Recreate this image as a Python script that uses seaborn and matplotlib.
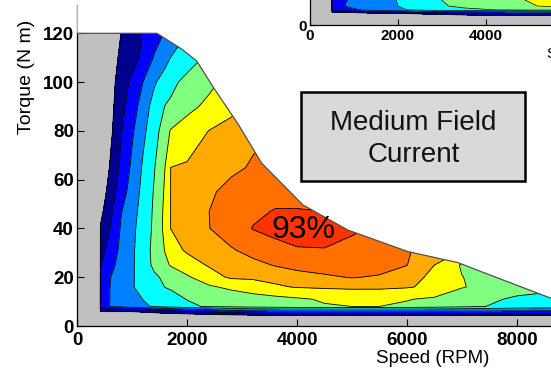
import numpy as np
import matplotlib
matplotlib.use("Agg")
import matplotlib.pyplot as plt
from matplotlib.patches import Rectangle
import seaborn as sns

sns.set_theme(style="white")
plt.rcParams['font.family'] = ['Liberation Sans', 'DejaVu Sans']

# ---------------- efficiency map, medium field current ----------------
speed_rpm = [400, 420, 600, 800, 1000, 1200, 1400, 1600, 1700, 2000, 2400, 2800,
             3200, 3600, 4000, 4500, 5000, 5500, 6000, 6500, 7000, 7500, 8000, 8800]
torque_nm = [3, 5, 6.5, 8, 11, 16, 20, 25, 31, 40, 47, 55, 65, 80, 90, 100, 110, 120]

# efficiency (%) : one row per torque value, one column per speed value
eff_t003 = [0, 60, 60, 60, 60, 60, 60, 60, 60, 60, 60, 60, 60, 60, 60, 60, 60, 60, 60, 60, 60, 60, 60, 60]
eff_t005 = [0, 66, 66, 66, 66, 67, 68, 69, 69.3, 70, 71.5, 72.5, 73.5, 74.3, 74.3, 74.3, 74.3, 74.3, 74.3, 74.5, 75.5, 75.5, 75.5, 75.5]
eff_t006 = [0, 72.7, 72.7, 72.7, 72.7, 73.5, 74.5, 75.5, 76, 77.5, 79, 80.5, 81.5, 82, 82, 82, 82, 82, 82, 82, 81.8, 81.5, 81.2, 81]
eff_t008 = [0, 76, 80.3, 81, 82, 83.5, 84.3, 85, 85.4, 86.5, 87.3, 87.7, 88.0, 88.3, 88.6, 88.85, 89.0, 89.0, 88.7, 88.2, 87.6, 86.9, 86.2, 85.5]
eff_t011 = [0, 76.5, 80.15, 81.5, 82.8, 84.08, 84.9, 85.7, 86.14, 87.08, 87.4, 87.7, 88.1, 88.4, 88.75, 89.2, 89.45, 89.4, 89.1, 88.7, 88.0, 87.4, 86.6, 86.0]
eff_t016 = [0, 76, 80.1, 82.0, 83.8, 84.97, 86.07, 87.06, 87.27, 87.9, 88.7, 89.44, 90.1, 90.78, 91.1, 91.25, 91.35, 91.35, 91.15, 90.6, 89.1, 88.5, 88.1, 87.5]
eff_t020 = [0, 75.3, 79.9, 81.8, 83.7, 85.2, 86.6, 87.44, 87.76, 88.7, 90.3, 91.25, 91.28, 91.45, 91.63, 91.85, 92.05, 91.9, 91.5, 90.7, 89.05, 88.3, 88.0, 87.5]
eff_t025 = [0, 74.55, 78.8, 81.5, 83.6, 85.8, 87.5, 88.6, 89.14, 90.26, 91.15, 91.45, 91.75, 92.05, 92.3, 92.45, 92.5, 92.4, 92.02, 91.0, 88.8, 88.0, 87.5, 87.0]
eff_t031 = [0, 72.9, 77.4, 81.1, 83.5, 85.8, 87.7, 89.1, 90.37, 91.2, 91.55, 91.9, 92.3, 92.65, 92.9, 92.95, 92.8, 92.5, 92.1, 91.5, 91.0, 90.5, 90.0, 89.5]
eff_t040 = [0, 70.3, 75.0, 80.6, 83.3, 85.5, 87.5, 89.5, 91.01, 91.43, 91.98, 92.5, 93.04, 93.3, 93.5, 93.4, 93.1, 92.9, 92.5, 92.0, 91.5, 91.0, 90.5, 90.0]
eff_t047 = [0, 68.6, 73.7, 79.8, 82.8, 85.3, 87.4, 89.46, 91.02, 91.44, 92.0, 92.41, 92.82, 93.05, 93.05, 93.0, 92.8, 92.5, 92.2, 91.8, 91.3, 90.8, 90.3, 89.8]
eff_t055 = [0, 66.85, 72.1, 77.9, 82.1, 85.0, 87.2, 89.29, 91.01, 91.4, 91.85, 92.3, 92.55, 92.7, 92.7, 92.6, 92.4, 92.2, 92.0, 91.7, 91.3, 90.8, 90.3, 89.8]
eff_t065 = [0, 64.8, 70.5, 76.2, 81.0, 84.5, 86.86, 89.04, 91.0, 91.2, 91.5, 91.8, 92.1, 92.5, 92.7, 92.7, 92.6, 92.4, 92.2, 91.9, 91.5, 91.0, 90.5, 90.0]
eff_t080 = [0, 60, 68.8, 74.65, 79.4, 83.3, 86.0, 88.3, 89.11, 89.96, 91.04, 91.5, 91.8, 92.0, 92.2, 92.3, 92.3, 92.2, 92.0, 91.8, 91.5, 91.0, 90.5, 90.0]
eff_t090 = [0, 63, 68.4, 73.3, 77.7, 82.3, 85.3, 87.1, 87.43, 88.43, 89.5, 90.6, 91.2, 91.8, 92.1, 92.2, 92.2, 92.1, 92.0, 91.8, 91.5, 91.0, 90.5, 90.0]
eff_t100 = [0, 64, 68.1, 72.3, 76.3, 80.1, 83.6, 85.5, 86.3, 87.8, 88.5, 89.75, 91.0, 91.5, 91.8, 92.0, 92.0, 92.0, 91.8, 91.5, 91.2, 90.8, 90.4, 90.0]
eff_t110 = [0, 66, 68.2, 70.76, 72.5, 76.4, 80.4, 82.9, 84.05, 85.66, 87.6, 89.3, 90.5, 91.0, 91.2, 91.3, 91.3, 91.3, 91.2, 91.0, 90.8, 90.5, 90.2, 90.0]
eff_t120 = [0, 65, 67.4, 70.07, 72.6, 75.3, 77.9, 80.36, 81.3, 84.0, 86.4, 88.2, 89.2, 89.5, 89.6, 89.6, 89.6, 89.6, 89.6, 89.6, 89.6, 89.6, 89.6, 89.6]

efficiency = np.array([eff_t003, eff_t005, eff_t006, eff_t008, eff_t011, eff_t016,
                       eff_t020, eff_t025, eff_t031, eff_t040, eff_t047, eff_t055,
                       eff_t065, eff_t080, eff_t090, eff_t100, eff_t110, eff_t120])

# maximum torque envelope
envelope_speed = [0, 1450, 1903, 2176, 2478, 2921, 3358, 4110, 4930, 6020, 6930, 7270, 8470, 8800]
envelope_torque = [120, 120, 113.5, 108.6, 97.8, 83, 66.7, 49.6, 39.3, 30.5, 26, 23, 12.7, 9.9]

# ---------------- low field current map (inset, lower strip) ----------------
inset_speed = [480, 500, 800, 1200, 2000, 2800, 3500, 4500, 5500, 7000]
inset_torque = [3, 6, 8, 10, 14]
inset_t03 = [0, 60, 60, 60, 60, 60, 60, 60, 60, 60]
inset_t06 = [0, 66, 66, 67, 69, 71, 72.5, 74, 74.5, 74.5]
inset_t08 = [0, 75, 77.5, 80.5, 83.5, 85.5, 86.5, 87.2, 87.6, 87.8]
inset_t10 = [0, 76, 80.05, 81.3, 84, 86.5, 87.5, 88.4, 89.3, 90]
inset_t14 = [0, 76.5, 79.7, 81.3, 84.2, 86.85, 87.6, 88.7, 89.7, 90.5]
inset_eff = np.array([inset_t03, inset_t06, inset_t08, inset_t10, inset_t14])

levels = [70, 75, 80, 84, 87, 89, 91, 92, 93, 95]
band_colors = ['#00008F', '#0000FF', '#0080FF', '#00FFFF', '#80FF80',
               '#FFFF00', '#FFAA00', '#FF7000', '#FF3300']

speed_ticks = [0, 2000, 4000, 6000, 8000]
torque_ticks = [0, 20, 40, 60, 80, 100, 120]
peak_label = "93%"
peak_speed, peak_torque = 4118, 36.0

no_data_grey = '#C0C0C0'

fig = plt.figure(figsize=(5.51, 3.69), dpi=100)
fig.patch.set_facecolor('white')


def style_axes(ax, labelsize):
    ax.set_facecolor(no_data_grey)
    sns.despine(ax=ax, top=True, right=True)
    for side in ('left', 'bottom'):
        ax.spines[side].set_color('black')
        ax.spines[side].set_linewidth(0.9)
    ax.tick_params(direction='in', length=5, width=0.8, colors='black',
                   labelsize=labelsize, left=True, bottom=True)
    for lbl in ax.get_xticklabels() + ax.get_yticklabels():
        lbl.set_fontweight('bold')


# ---------------- main map ----------------
ax = fig.add_axes([0.1403, 0.1165, 0.8597, 0.8699])
S, T = np.meshgrid(speed_rpm, torque_nm)
ax.contourf(S, T, efficiency, levels=levels, colors=band_colors, zorder=1)
ax.contour(S, T, efficiency, levels=levels[:-1], colors='black', linewidths=0.6, zorder=2)
ax.fill_between(envelope_speed, envelope_torque, 200, color='white', lw=0, zorder=3)
ax.plot(envelope_speed, envelope_torque, color='#505050', lw=0.9, zorder=4)
ax.set_xlim(0, 8624)
ax.set_ylim(0, 131.6)
ax.set_xticks(speed_ticks)
ax.set_yticks(torque_ticks)
style_axes(ax, 13.5)
ax.tick_params(axis='x', pad=4)
ax.tick_params(axis='y', pad=2.5)
ax.set_xlabel('Speed (RPM)', fontsize=13.5, color='black')
ax.set_ylabel('Torque (N m)', fontsize=14, color='black')
ax.xaxis.set_label_coords(0.750, -0.0748)
ax.yaxis.set_label_coords(-0.0892, 0.777)
ax.text(peak_speed, peak_torque, peak_label, ha='center', va='baseline',
        fontsize=23, color='black', zorder=6)

# ---------------- inset map ----------------
axi = fig.add_axes([0.5626, 0.9309, 0.7187, 0.6954])
Si, Ti = np.meshgrid(inset_speed, inset_torque)
axi.contourf(Si, Ti, inset_eff, levels=levels, colors=band_colors, zorder=1)
axi.contour(Si, Ti, inset_eff, levels=levels[:-1], colors='black', linewidths=0.5, zorder=2)
axi.set_xlim(0, 9000)
axi.set_ylim(0, 131.6)
axi.set_xticks(speed_ticks)
axi.set_yticks(torque_ticks)
style_axes(axi, 11)
axi.tick_params(direction='in', length=4, pad=2.5)
axi.set_xlabel('Speed (RPM)', fontsize=11, color='black')
axi.xaxis.set_label_coords(0.7146, -0.0838)

# ---------------- caption box ----------------
fig.add_artist(Rectangle((301 / 551, 188 / 369), 224 / 551, 89 / 369,
                         transform=fig.transFigure, facecolor='#D9D9D9',
                         edgecolor='black', linewidth=1.8, zorder=10))
fig.text(0.7501, 0.6477, 'Medium Field', ha='center', va='baseline',
         fontsize=20, color='#111111', zorder=11)
fig.text(0.7501, 0.5602, 'Current', ha='center', va='baseline',
         fontsize=20, color='#111111', zorder=11)

fig.savefig('out.png', dpi=100)
